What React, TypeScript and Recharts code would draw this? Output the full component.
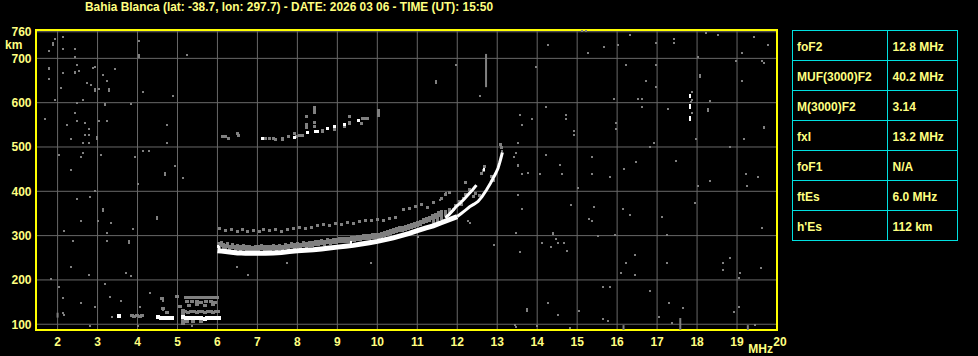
import React from 'react';
import {
  ScatterChart,
  Scatter,
  XAxis,
  YAxis,
  CartesianGrid,
  ReferenceArea,
  ReferenceLine
} from 'recharts';

type Pt = [number, number];

const title = 'Bahia Blanca (lat: -38.7, lon: 297.7) - DATE: 2026 03 06 - TIME (UT): 15:50';

const freqTicks = [2, 3, 4, 5, 6, 7, 8, 9, 10, 11, 12, 13, 14, 15, 16, 17, 18, 19, 20];
const heightTicks = [100, 200, 300, 400, 500, 600, 700, 760];

const paramNames = ['foF2', 'MUF(3000)F2', 'M(3000)F2', 'fxI', 'foF1', 'ftEs', "h'Es"];
const paramValues = ['12.8 MHz', '40.2 MHz', '3.14', '13.2 MHz', 'N/A', '6.0 MHz', '112 km'];

// F2 trace, lower part (thick white band)
const f2Low: Pt[] = [
  [6.0, 266], [6.1, 265], [6.2, 264], [6.3, 263], [6.4, 262], [6.5, 261], [6.6, 261], [6.7, 260],
  [6.8, 260], [6.9, 260], [7.0, 260], [7.2, 260], [7.4, 261], [7.6, 262], [7.8, 264], [8.0, 266],
  [8.2, 267], [8.4, 268], [8.6, 270], [8.8, 272], [9.0, 274], [9.2, 276], [9.4, 278], [9.6, 281],
  [9.8, 284], [10.0, 287], [10.2, 291], [10.4, 295], [10.6, 300], [10.8, 305], [11.0, 311],
  [11.2, 317], [11.4, 322], [11.6, 329], [11.8, 336], [12.0, 343]
];

// F2 trace, cusp towards the critical frequency
const f2High: Pt[] = [
  [12.0, 343], [12.1, 350], [12.2, 357], [12.31, 365], [12.42, 371], [12.52, 377], [12.62, 388],
  [12.73, 403], [12.83, 418], [12.9, 430], [12.96, 440], [13.02, 452], [13.06, 464], [13.09, 474],
  [13.11, 481], [13.13, 488]
];

// second (inner) branch
const f2Inner: Pt[] = [
  [11.7, 340], [11.8, 348], [11.9, 358], [11.98, 366], [12.07, 373], [12.17, 382], [12.27, 392],
  [12.38, 403], [12.48, 414]
];

const whiteBits: Pt[] = [
  [6.02, 276], [6.05, 273], [9.35, 285], [9.35, 281], [12.66, 450], [17.82, 617], [17.82, 613],
  [17.82, 593], [17.82, 589], [17.82, 567], [17.82, 563]
];

// grey echoes right above the F2 trace
const f2Band: Pt[] = [
  [6.02, 278], [6.05, 272], [6.1, 280], [6.15, 276], [6.2, 274], [6.25, 279], [6.3, 273], [6.38, 277],
  [6.45, 272], [6.5, 275], [6.58, 271], [6.65, 274], [6.72, 271], [6.8, 273], [6.88, 270], [6.95, 273],
  [7.02, 271], [7.1, 274], [7.18, 271], [7.25, 273], [7.32, 271], [7.4, 274], [7.48, 272], [7.55, 275],
  [7.62, 273], [7.7, 276], [7.78, 274], [7.85, 278], [7.92, 276], [8.0, 279], [8.08, 277], [8.15, 281],
  [8.22, 279], [8.3, 282], [8.38, 281], [8.45, 284], [8.52, 283], [8.6, 285], [8.68, 284], [8.75, 287],
  [8.82, 286], [8.9, 288], [8.98, 288], [9.05, 290], [9.12, 290], [9.2, 291], [9.28, 291], [9.35, 292],
  [9.42, 293], [9.5, 294], [9.58, 295], [9.65, 296], [9.72, 296], [9.8, 297], [9.88, 298], [9.95, 299],
  [10.02, 300], [10.1, 302], [10.18, 304], [10.25, 306], [10.32, 308], [10.4, 310], [10.48, 312],
  [10.55, 314], [10.62, 316], [10.7, 318], [10.78, 320], [10.85, 322], [10.92, 324], [11.0, 326],
  [11.08, 329], [11.15, 332], [11.22, 335], [11.3, 338], [11.38, 341], [11.45, 345], [11.52, 348],
  [11.6, 352], [11.4, 330], [11.5, 338], [11.6, 343], [11.7, 350], [11.8, 355]
];

// grey dotted layer and scatter around the cusp
const f2Upper: Pt[] = [
  [6.05, 316], [6.2, 312], [6.35, 314], [6.5, 310], [6.62, 313], [6.75, 309], [6.9, 312], [7.05, 310],
  [7.15, 314], [7.3, 311], [7.45, 313], [7.6, 310], [7.75, 314], [7.9, 316], [8.05, 318], [8.2, 315],
  [8.35, 319], [8.5, 322], [8.65, 325], [8.8, 323], [8.95, 327], [9.1, 325], [9.25, 329], [9.4, 327],
  [9.55, 332], [9.7, 335], [9.85, 333], [10.0, 337], [10.15, 335], [10.3, 339], [10.45, 341],
  [10.65, 358], [10.8, 362], [10.95, 366], [11.1, 370], [11.25, 364], [11.4, 374], [11.6, 384],
  [11.7, 392], [11.8, 398], [11.9, 360], [11.95, 368], [12.05, 378], [12.1, 370], [12.15, 384],
  [12.2, 392], [12.3, 403], [12.4, 388], [12.45, 396], [12.55, 390], [12.2, 420], [12.6, 440],
  [12.65, 446], [12.67, 455], [12.86, 433], [12.9, 425], [13.08, 505], [13.1, 498]
];

// second hop around 520-580 km
const hop2White: Pt[] = [
  [7.13, 519], [7.93, 522], [8.25, 532], [8.45, 535], [8.5, 534], [8.75, 541], [8.93, 546],
  [9.17, 550], [9.53, 559]
];
const hop2Gray: Pt[] = [
  [6.13, 523], [6.2, 523], [6.28, 520], [6.5, 530], [6.52, 527], [7.2, 519], [7.3, 519], [7.4, 520],
  [7.44, 518], [7.63, 520], [7.63, 517], [7.78, 524], [7.93, 530], [7.98, 524], [8.05, 525],
  [8.13, 526], [8.23, 568], [8.23, 550], [8.23, 543], [8.42, 588], [8.42, 582], [8.42, 577],
  [8.42, 555], [8.42, 547], [8.63, 535], [8.63, 538], [8.93, 540], [9.17, 546], [9.3, 556],
  [9.3, 552], [9.3, 568], [9.6, 554], [9.63, 564], [9.7, 564], [9.75, 564], [10.03, 582],
  [10.03, 577], [10.03, 572]
];

// sporadic E
const esWhite: Pt[] = [
  [3.53, 119], [4.52, 116], [4.58, 115], [4.65, 114], [4.72, 115], [4.8, 114], [4.86, 115], [5.15, 116],
  [5.22, 115], [5.3, 114], [5.38, 115], [5.45, 113], [5.52, 115], [5.6, 114], [5.68, 112], [5.75, 114],
  [5.82, 113], [5.9, 115], [5.98, 113], [6.04, 114]
];
const esGray: Pt[] = [
  [3.85, 119], [3.92, 118], [3.98, 119], [4.05, 118], [4.12, 119], [4.62, 157], [4.63, 135], [4.73, 127],
  [4.98, 162], [5.06, 140], [5.14, 125], [5.14, 132], [5.14, 108], [5.14, 102],
  [5.22, 161], [5.3, 161], [5.38, 161], [5.46, 161], [5.54, 161], [5.62, 161], [5.7, 161], [5.78, 161],
  [5.86, 161], [5.94, 161], [6.0, 161],
  [5.24, 151], [5.36, 151], [5.48, 151], [5.58, 150], [5.72, 151], [5.85, 151], [5.95, 150],
  [5.3, 143], [5.5, 144], [5.7, 143], [5.9, 144],
  [5.2, 128], [5.27, 127], [5.34, 129], [5.41, 128], [5.48, 127], [5.55, 129], [5.62, 128], [5.69, 127],
  [5.76, 129], [5.83, 128], [5.9, 127], [5.97, 129], [6.02, 128],
  [5.25, 106], [5.4, 107], [5.6, 106]
];

// isolated noise pixels
const noise: Pt[] = [
  [1.93, 744], [2.13, 749], [1.88, 731], [1.88, 735], [1.78, 717], [2.13, 721], [2.44, 721], [2.44, 704],
  [4.03, 740], [4.03, 704], [4.03, 708], [5.23, 708], [1.78, 675], [1.78, 678], [2.13, 668], [2.44, 670],
  [2.44, 667], [2.48, 686], [2.53, 672], [2.88, 678], [2.94, 681], [3.13, 663], [3.23, 650], [3.43, 677],
  [1.78, 654], [2.08, 632], [2.73, 645], [2.84, 641], [2.94, 627], [2.94, 631], [3.03, 630], [3.28, 630],
  [3.28, 626], [4.13, 623], [4.88, 614], [1.93, 605], [2.48, 600], [2.63, 605], [3.18, 597], [3.18, 594],
  [3.84, 596], [1.68, 564], [2.44, 577], [2.48, 559], [2.68, 555], [3.03, 559], [3.23, 559], [2.23, 550],
  [2.78, 541], [2.68, 528], [2.78, 528], [2.98, 522], [2.98, 518], [2.33, 519], [2.63, 510], [2.78, 510],
  [4.73, 550], [4.73, 510], [2.03, 483], [2.63, 487], [2.58, 478], [3.08, 483], [2.33, 447], [3.93, 478],
  [4.13, 492], [4.28, 492], [4.93, 456], [4.68, 442], [4.68, 437], [5.13, 429],
  [15.13, 762], [15.23, 762], [16.33, 753], [14.28, 731], [15.68, 726], [16.03, 731], [15.28, 713],
  [16.98, 735], [17.43, 744], [17.43, 735], [18.23, 758], [18.53, 753], [19.43, 749], [19.78, 731],
  [19.13, 713], [18.03, 704], [18.98, 695], [19.63, 695], [19.68, 690], [11.98, 686], [11.48, 649],
  [11.48, 645], [12.58, 614], [13.98, 681], [16.23, 686], [16.98, 686], [16.73, 650], [16.98, 636],
  [18.08, 663], [18.08, 659], [19.13, 650], [15.93, 609], [16.53, 609], [16.63, 609], [16.63, 591],
  [17.28, 586], [18.33, 604], [18.28, 586], [18.28, 582], [14.23, 591], [13.58, 573], [13.88, 564],
  [13.63, 550], [14.73, 573], [14.73, 564], [14.93, 537], [14.93, 528], [15.98, 555], [15.98, 541],
  [17.88, 625], [17.88, 605], [17.88, 577], [17.86, 601], [19.68, 546], [19.68, 542], [19.18, 519],
  [17.98, 519], [18.83, 501], [16.83, 501], [16.93, 510], [13.53, 510], [13.13, 492], [13.48, 487],
  [13.43, 478], [13.53, 456], [13.63, 438], [13.78, 442], [14.23, 483], [14.58, 460], [14.63, 438],
  [14.08, 438], [15.38, 478], [15.38, 438], [15.83, 433], [16.18, 451], [16.48, 465], [17.48, 469],
  [19.23, 438], [19.53, 433],
  [2.94, 401], [2.82, 388], [2.48, 383], [4.0, 417], [3.13, 360], [3.13, 356], [2.58, 334], [3.02, 334],
  [3.33, 329], [4.49, 342], [4.49, 338], [3.89, 315], [2.17, 311], [3.24, 307], [2.39, 288], [3.24, 288],
  [3.78, 288], [3.78, 284], [2.34, 230], [3.71, 216], [2.79, 212], [1.84, 201], [3.83, 208], [2.03, 185],
  [3.19, 190], [2.13, 159], [3.3, 162], [3.59, 153], [2.58, 149], [2.94, 140], [4.32, 170], [4.63, 157],
  [4.63, 153], [4.06, 140], [4.98, 162], [2.13, 126], [2.17, 121], [3.35, 117], [2.82, 95], [4.0, 95],
  [4.65, 136], [4.65, 132], [5.36, 95],
  [7.73, 239], [6.76, 211], [6.48, 229], [9.85, 239], [11.01, 296], [12.31, 328], [12.92, 279],
  [13.51, 392], [13.63, 360], [13.47, 307], [13.56, 262], [14.13, 284], [14.34, 275], [14.46, 292],
  [14.52, 284], [14.67, 284], [14.74, 266], [14.39, 307], [14.39, 303], [14.84, 369], [15.03, 407],
  [15.43, 365], [15.29, 337], [15.38, 334], [15.52, 298], [15.94, 302], [16.14, 360], [16.33, 347],
  [16.44, 256], [16.21, 238], [16.09, 215], [16.44, 211], [17.13, 343], [17.24, 302], [17.24, 239],
  [17.94, 374], [18.03, 411], [18.33, 424], [19.25, 411], [19.63, 317], [18.65, 239], [18.83, 249],
  [18.65, 222], [19.07, 216], [19.04, 204], [19.6, 226], [15.64, 185], [15.82, 185], [16.82, 176],
  [14.28, 149], [15.05, 131], [14.52, 121], [13.75, 134], [13.75, 130], [17.3, 149], [17.65, 136],
  [19.04, 140], [18.92, 128], [17.06, 117], [15.64, 111], [13.45, 98], [13.48, 94], [13.99, 95],
  [14.81, 91], [15.77, 107], [17.38, 103], [19.44, 98],
  [12.19, 420], [13.52, 460], [13.52, 392], [13.48, 305], [12.27, 332], [11.73, 396], [11.56, 380]
];

// vertical streaks: freq, bottom km, top km
const streaks: [number, number, number][] = [
  [12.72, 635, 710], [17.58, 87, 114], [16.16, 87, 98], [19.27, 87, 98], [2.0, 115, 126]
];

const pts = (arr: Pt[]) => arr.map(([f, h]) => ({ f, h }));

const box = (w: number, h: number, fill: string) => (p: any) => (
  <rect x={p.cx - w / 2} y={p.cy - h / 2} width={w} height={h} fill={fill} shapeRendering="crispEdges" />
);
const noShape = () => <g />;

const YELLOW = '#ffff00';
const LABEL = '#ffff80';
const GRAY = '#808080';
const FONT = '"Liberation Sans", Arial, sans-serif';

const XTick = (props: any) => {
  const { x, payload } = props;
  if (payload.value === 20) {
    return (
      <g>
        <text x={780} y={346} fill={LABEL} fontSize={12} fontWeight="bold" fontFamily={FONT} textAnchor="middle">20</text>
        <text x={773} y={353} fill={LABEL} fontSize={12} fontWeight="bold" fontFamily={FONT} textAnchor="end">MHz</text>
      </g>
    );
  }
  return (
    <text x={x} y={346} fill={LABEL} fontSize={12} fontWeight="bold" fontFamily={FONT} textAnchor="middle">
      {payload.value}
    </text>
  );
};

const YTick = (props: any) => {
  const { y, payload } = props;
  return (
    <g>
      <text x={31.5} y={y + 4.3} fill={LABEL} fontSize={12} fontWeight="bold" fontFamily={FONT} textAnchor="end">
        {payload.value}
      </text>
      {payload.value === 760 && (
        <text x={5} y={49} fill={LABEL} fontSize={12} fontWeight="bold" fontFamily={FONT}>km</text>
      )}
    </g>
  );
};

const App = () => {
  return (
    <div style={{ position: 'absolute', left: 0, top: 0, width: 978, height: 356, background: '#000', overflow: 'hidden' }}>
      <ScatterChart width={978} height={356} margin={{ top: 30, right: 201, bottom: 0, left: 0 }}>
        <CartesianGrid stroke="#686868" strokeWidth={1} />
        <XAxis
          type="number"
          dataKey="f"
          domain={[1.46, 20]}
          ticks={freqTicks}
          allowDataOverflow
          height={26}
          axisLine={false}
          tickLine={false}
          tick={<XTick />}
          interval={0}
        />
        <YAxis
          type="number"
          dataKey="h"
          domain={[87, 764]}
          ticks={heightTicks}
          allowDataOverflow
          width={36}
          axisLine={false}
          tickLine={false}
          tick={<YTick />}
          interval={0}
        />
        {streaks.map(([f, lo, hi], i) => (
          <ReferenceLine key={i} segment={[{ x: f, y: lo }, { x: f, y: hi }]} stroke={GRAY} strokeWidth={2} />
        ))}
        <Scatter data={pts(noise)} shape={box(2, 2, GRAY)} isAnimationActive={false} />
        <Scatter data={pts(f2Upper)} shape={box(3, 3, GRAY)} isAnimationActive={false} />
        <Scatter data={pts(f2Band)} shape={box(3, 6, GRAY)} isAnimationActive={false} />
        <Scatter data={pts(hop2Gray)} shape={box(3, 3, GRAY)} isAnimationActive={false} />
        <Scatter data={pts(esGray)} shape={box(4, 3, GRAY)} isAnimationActive={false} />
        <Scatter data={pts(esWhite)} shape={box(4, 4, '#ffffff')} isAnimationActive={false} />
        <Scatter data={pts(hop2White)} shape={box(3, 3, '#ffffff')} isAnimationActive={false} />
        <Scatter data={pts(whiteBits)} shape={box(2, 3, '#ffffff')} isAnimationActive={false} />
        <Scatter
          data={pts(f2Low)}
          shape={noShape}
          line={{ stroke: '#ffffff', strokeWidth: 5 }}
          lineType="joint"
          isAnimationActive={false}
        />
        <Scatter
          data={pts(f2High)}
          shape={noShape}
          line={{ stroke: '#ffffff', strokeWidth: 3 }}
          lineType="joint"
          isAnimationActive={false}
        />
        <Scatter
          data={pts(f2Inner)}
          shape={noShape}
          line={{ stroke: '#ffffff', strokeWidth: 3 }}
          lineType="joint"
          isAnimationActive={false}
        />
        <ReferenceArea x1={1.46} x2={20} y1={87} y2={764} fill="none" fillOpacity={0} stroke={YELLOW} strokeWidth={2} />
      </ScatterChart>

      <svg width={978} height={356} style={{ position: 'absolute', left: 0, top: 0, pointerEvents: 'none' }}>
        <text
          x={85}
          y={11}
          fill={LABEL}
          fontSize={12}
          fontWeight="bold"
          fontFamily={FONT}
          textLength={408}
          lengthAdjust="spacingAndGlyphs"
        >
          {title}
        </text>
        <g fontFamily={FONT} fontSize={12} fontWeight="bold" fill={LABEL}>
          {paramNames.map((name, i) => (
            <g key={name}>
              <text x={797} y={30 + i * 30 + 21}>{name}</text>
              <text x={892.5} y={30 + i * 30 + 21}>{paramValues[i]}</text>
            </g>
          ))}
        </g>
        <g stroke="#00e0e0" strokeWidth={1} fill="none" shapeRendering="crispEdges">
          <rect x={792.5} y={30.5} width={165} height={210} />
          <line x1={887.5} y1={30.5} x2={887.5} y2={240.5} />
          {paramNames.slice(1).map((_, i) => (
            <line key={i} x1={792.5} y1={60.5 + i * 30} x2={957.5} y2={60.5 + i * 30} />
          ))}
        </g>
      </svg>
    </div>
  );
};

export default App;
